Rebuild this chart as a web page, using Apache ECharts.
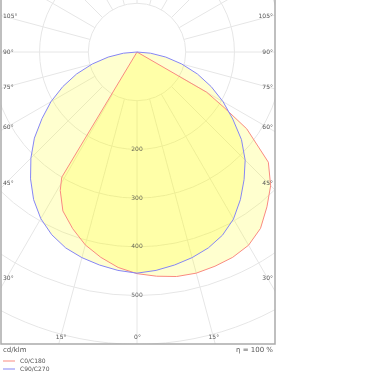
<!DOCTYPE html>
<html><head><meta charset="utf-8">
<script src="https://cdn.jsdelivr.net/npm/echarts@6/dist/echarts.min.js"></script>
<style>html,body{margin:0;padding:0;background:#fff}#c{width:375px;height:375px}</style>
</head><body><div id="c"></div>
<script>
// Luminous intensity (cd/klm) per C-plane, gamma in degrees from nadir
const c0Gamma   = [0,5,10,15,20,25,30,35,40,45,50,55,57.5,60,62,90,180];
const c0Values  = [455,462,468,470,468,465,458,442,415,388,352,275,212,165,0,0,0];
const c180Gamma = [0,5,10,15,20,25,29,31,32,90,180];
const c180Values= [455,444,428,410,386,360,325,300,0,0,0];
const c90Gamma  = [0,5,10,15,20,25,30,35,40,45,50,55,60,65,70,75,80,85,90,180];
const c90Values = [454,450,444,437,428,415,396,370,342,314,280,240,204,168,132,95,60,28,0,0];
const c270Gamma = [0,5,10,15,20,25,30,35,40,45,50,55,60,65,70,75,80,85,90,180];
const c270Values= [454,450,444,437,428,414,395,370,340,308,275,238,204,168,132,95,60,28,0,0];
const seriesNames = ['C0/C180','C90/C270'];
const radiusLabels = [200,300,400,500];
const spokeAngles = [0,15,30,45,60,75,90,105,120,135,150,165,180,195,210,225,240,255,270,285,300,315,330,345];
const angleLabels = [0,15,30,45,60,75,90,105];
const unitText = 'cd/klm';
const etaText = 'η = 100 %';

const CX = 137, CY = 52, RPX = 341, RMAX = 700;
const FRAME = {x:1, y:-1, w:274, h:345};

function plane(gs, vs, right) {
  return gs.map((g,i)=>[vs[i], right ? g : 360 - g]);
}
const redData = plane(c0Gamma, c0Values, true).concat(plane(c180Gamma, c180Values, false).reverse());
const blueData = plane(c90Gamma, c90Values, true).concat(plane(c270Gamma, c270Values, false).reverse());

const RED = '#f98a80', BLUE = '#8585f5';
const GRID = '#e6e6e6';
const fill = {color:'#ffff00', opacity:0.19};

// angle label positions: where each spoke meets the inner frame
const texts = [];
angleLabels.forEach(a => {
  const r = a * Math.PI / 180;
  const sx = Math.sin(r), cy = Math.cos(r);
  const tb = cy > 1e-6 ? (337 - CY) / cy : Infinity;
  const ts = sx > 1e-6 ? (131) / sx : Infinity;
  if (tb <= ts) {
    const dx = tb * sx;
    [1,-1].forEach((s,k) => {
      if (a === 0 && k === 1) return;
      texts.push({type:'text', z:120, style:{text:a+'°', x:CX + s*dx + 0.5, y:337, textAlign:'center', textVerticalAlign:'middle', fontSize:6, fill:'#555', fontFamily:'DejaVu Sans'}});
    });
  } else {
    const y = CY + ts * cy;
    texts.push({type:'text', z:120, style:{text:a+'°', x:3, y:y, textAlign:'left', textVerticalAlign:'middle', fontSize:6, fill:'#555', fontFamily:'DejaVu Sans'}});
    texts.push({type:'text', z:120, style:{text:a+'°', x:273, y:y, textAlign:'right', textVerticalAlign:'middle', fontSize:6, fill:'#555', fontFamily:'DejaVu Sans'}});
  }
});

const chart = echarts.init(document.getElementById('c'));
chart.setOption({
  animation:false,
  polar:{center:[CX, CY], radius:RPX},
  angleAxis:{type:'value', min:0, max:360, startAngle:270, clockwise:false,
    axisLine:{show:false}, axisTick:{show:false}, axisLabel:{show:false}, splitLine:{show:false}},
  radiusAxis:{type:'value', min:0, max:RMAX, interval:100,
    axisLine:{show:false}, axisTick:{show:false}, axisLabel:{show:false},
    splitLine:{show:true, lineStyle:{color:GRID, width:1}}},
  legend:{data:seriesNames, orient:'vertical', left:3, top:357, padding:0, icon:'rect', itemWidth:12, itemHeight:1, itemGap:0,
    z:130, textStyle:{fontSize:6, lineHeight:8, color:'#555', fontFamily:'DejaVu Sans'}},
  series:[
    {type:'custom', coordinateSystem:'polar', silent:true, z:1,
     data: spokeAngles.map(a=>[100, a]),
     renderItem:(params, api) => {
       const p1 = api.coord([100, api.value(1)]);
       const p2 = api.coord([RMAX, api.value(1)]);
       return {type:'line', shape:{x1:p1[0], y1:p1[1], x2:p2[0], y2:p2[1]}, style:{stroke:GRID, lineWidth:1}};
     }},
    {name:seriesNames[0], type:'line', coordinateSystem:'polar', data:redData, showSymbol:false, symbol:'none', z:3,
     itemStyle:{color:RED}, lineStyle:{color:RED, width:1}, areaStyle:fill},
    {name:seriesNames[1], type:'line', coordinateSystem:'polar', data:blueData, showSymbol:false, symbol:'none', z:3,
     itemStyle:{color:BLUE}, lineStyle:{color:BLUE, width:1}, areaStyle:fill},
    {type:'scatter', coordinateSystem:'polar', data:radiusLabels.map(v=>[v, 0]), symbolSize:0, z:5, silent:true,
     label:{show:true, position:'inside', formatter:p=>String(p.value[0]), fontSize:6, color:'#444', fontFamily:'DejaVu Sans'}}
  ],
  graphic:[
    {type:'rect', z:100, shape:{x:FRAME.x+FRAME.w, y:0, width:200, height:375}, style:{fill:'#fff'}},
    {type:'rect', z:100, shape:{x:0, y:FRAME.y+FRAME.h, width:375, height:100}, style:{fill:'#fff'}},
    {type:'rect', z:100, shape:{x:-5, y:0, width:6, height:375}, style:{fill:'#fff'}},
    {type:'rect', z:110, shape:{x:FRAME.x, y:FRAME.y, width:FRAME.w, height:FRAME.h}, style:{fill:'none', stroke:'#aaa', lineWidth:1.5}},
    {type:'text', z:120, style:{text:unitText, x:3, y:350, textVerticalAlign:'middle', fontSize:7, fill:'#555', fontFamily:'DejaVu Sans'}},
    {type:'text', z:120, style:{text:etaText, x:273, y:350, textAlign:'right', textVerticalAlign:'middle', fontSize:7, fill:'#555', fontFamily:'DejaVu Sans'}}
  ].concat(texts)
});
</script></body></html>
